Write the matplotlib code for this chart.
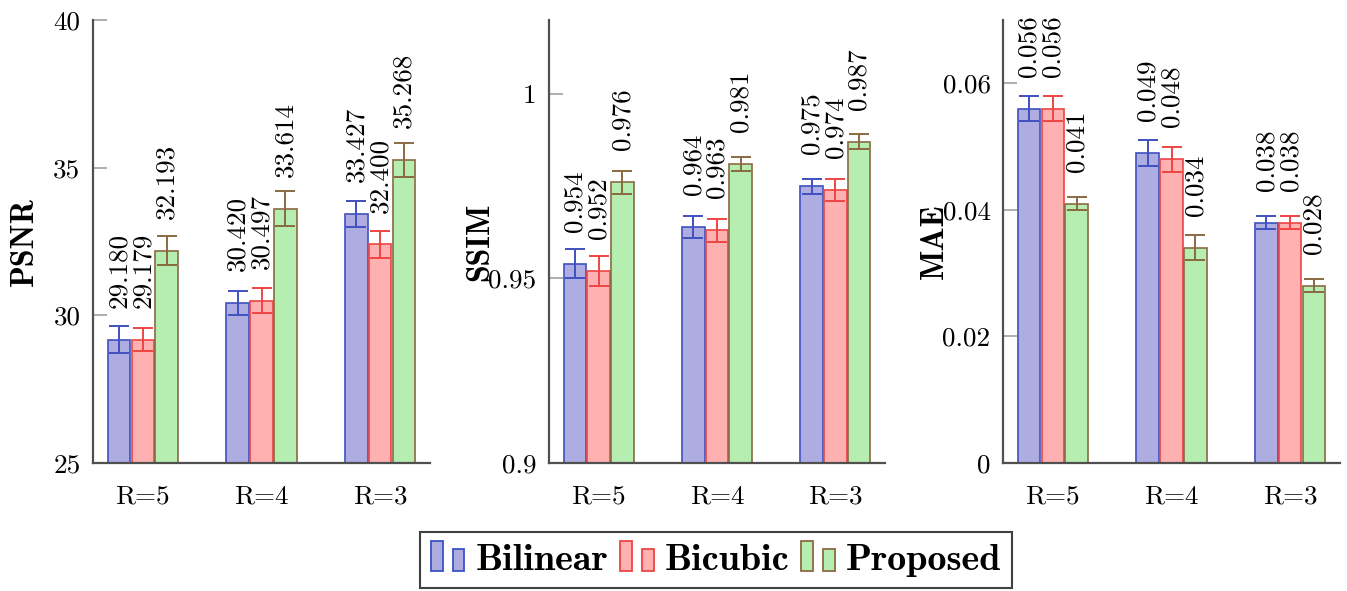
import matplotlib
matplotlib.use("Agg")
import matplotlib.pyplot as plt
import numpy as np
from matplotlib.patches import Rectangle
from matplotlib.legend_handler import HandlerBase

# scale factors compared in every panel
groups = ["R=5", "R=4", "R=3"]
methods = ["Bilinear", "Bicubic", "Proposed"]

# PSNR (dB)
psnr_bilinear = [29.180, 30.420, 33.427]
psnr_bicubic = [29.179, 30.497, 32.400]
psnr_proposed = [32.193, 33.614, 35.268]
psnr_bilinear_err = [0.45, 0.42, 0.45]
psnr_bicubic_err = [0.40, 0.43, 0.45]
psnr_proposed_err = [0.50, 0.58, 0.57]

# SSIM
ssim_bilinear = [0.954, 0.964, 0.975]
ssim_bicubic = [0.952, 0.963, 0.974]
ssim_proposed = [0.976, 0.981, 0.987]
ssim_bilinear_err = [0.004, 0.003, 0.002]
ssim_bicubic_err = [0.004, 0.003, 0.003]
ssim_proposed_err = [0.003, 0.002, 0.002]

# MAE
mae_bilinear = [0.056, 0.049, 0.038]
mae_bicubic = [0.056, 0.048, 0.038]
mae_proposed = [0.041, 0.034, 0.028]
mae_bilinear_err = [0.002, 0.002, 0.001]
mae_bicubic_err = [0.002, 0.002, 0.001]
mae_proposed_err = [0.001, 0.002, 0.001]

psnr_ticks = [25, 30, 35, 40]
psnr_ticklabels = ["25", "30", "35", "40"]
ssim_ticks = [0.9, 0.95, 1.0]
ssim_ticklabels = ["0.9", "0.95", "1"]
mae_ticks = [0, 0.02, 0.04, 0.06]
mae_ticklabels = ["0", "0.02", "0.04", "0.06"]

face_colors = ["#adade2", "#ffb0b0", "#b5eeb0"]
edge_colors = ["#4050c0", "#ef4444", "#8a6a42"]

plt.rcParams["font.family"] = "cmr10"
plt.rcParams["axes.formatter.use_mathtext"] = True

FS = 19.5


class TwoBarHandler(HandlerBase):
    # legend symbol made of a tall bar and a shorter bar
    def create_artists(self, legend, orig_handle, xdescent, ydescent,
                       width, height, fontsize, trans):
        fc = orig_handle.get_facecolor()
        ec = orig_handle.get_edgecolor()
        w = width * 0.35
        base = -ydescent - height * 0.04
        r1 = Rectangle((-xdescent, base), w, height * 1.12,
                       facecolor=fc, edgecolor=ec, lw=1.3, transform=trans)
        r2 = Rectangle((-xdescent + width * 0.645, base), w, height * 0.81,
                       facecolor=fc, edgecolor=ec, lw=1.3, transform=trans)
        return [r1, r2]


def draw_panel(ax, series, errors, ylim, ticks, ticklabels, ylabel):
    x = np.arange(len(groups))
    offsets = [-0.2, 0.0, 0.2]
    handles = []
    for vals, errs, off, fc, ec in zip(series, errors, offsets, face_colors, edge_colors):
        bars = ax.bar(x + off, vals, width=0.19, color=fc, edgecolor=ec,
                      linewidth=1.2, zorder=2)
        ax.errorbar(x + off, vals, yerr=errs, fmt="none", ecolor=ec,
                    elinewidth=1.4, capsize=7, capthick=1.4, zorder=3)
        for xi, v in zip(x + off, vals):
            ax.annotate(f"{v:.3f}", (xi, v), xytext=(0, 23),
                        textcoords="offset points", rotation=90,
                        ha="center", va="bottom", fontsize=FS)
        handles.append(bars)
    ax.set_xlim(-0.42, 2.42)
    ax.set_ylim(*ylim)
    ax.set_xticks(x)
    ax.set_xticklabels(groups, fontsize=FS)
    ax.set_yticks(ticks)
    ax.set_yticklabels(ticklabels, fontsize=FS)
    ax.tick_params(axis="x", length=0, pad=16)
    ax.tick_params(axis="y", direction="in", length=10, width=1.2,
                   color="#a0a0a0", pad=9)
    for side in ["top", "right"]:
        ax.spines[side].set_visible(False)
    for side in ["left", "bottom"]:
        ax.spines[side].set_color("#505050")
        ax.spines[side].set_linewidth(1.6)
    ax.text(-0.205, 0.5, ylabel, transform=ax.transAxes, rotation=90,
            ha="center", va="center", fontsize=23, family="cmb10")
    return handles


fig = plt.figure(figsize=(13.47, 5.91), dpi=100)
W, H = 1347, 591
ax1 = fig.add_axes([93 / W, (H - 463) / H, 337 / W, 443 / H])
ax2 = fig.add_axes([549 / W, (H - 463) / H, 336 / W, 443 / H])
ax3 = fig.add_axes([1003 / W, (H - 463) / H, 337 / W, 443 / H])

handles = draw_panel(ax1, [psnr_bilinear, psnr_bicubic, psnr_proposed],
                     [psnr_bilinear_err, psnr_bicubic_err, psnr_proposed_err],
                     (25, 40), psnr_ticks, psnr_ticklabels, "PSNR")
draw_panel(ax2, [ssim_bilinear, ssim_bicubic, ssim_proposed],
           [ssim_bilinear_err, ssim_bicubic_err, ssim_proposed_err],
           (0.9, 1.02), ssim_ticks, ssim_ticklabels, "SSIM")
draw_panel(ax3, [mae_bilinear, mae_bicubic, mae_proposed],
           [mae_bilinear_err, mae_bicubic_err, mae_proposed_err],
           (0, 0.07), mae_ticks, mae_ticklabels, "MAE")

leg = fig.legend([h.patches[0] for h in handles], methods, ncol=3,
                 loc="center", bbox_to_anchor=(716 / W, 1 - 560 / H),
                 prop={"family": "cmb10", "size": 27.5},
                 handler_map={Rectangle: TwoBarHandler()},
                 handlelength=0.886, handletextpad=0.29, columnspacing=0.3,
                 borderpad=0.28, fancybox=False, framealpha=1)
leg.get_frame().set_edgecolor("#404040")
leg.get_frame().set_linewidth(1.5)

fig.savefig("out.png", dpi=100)
